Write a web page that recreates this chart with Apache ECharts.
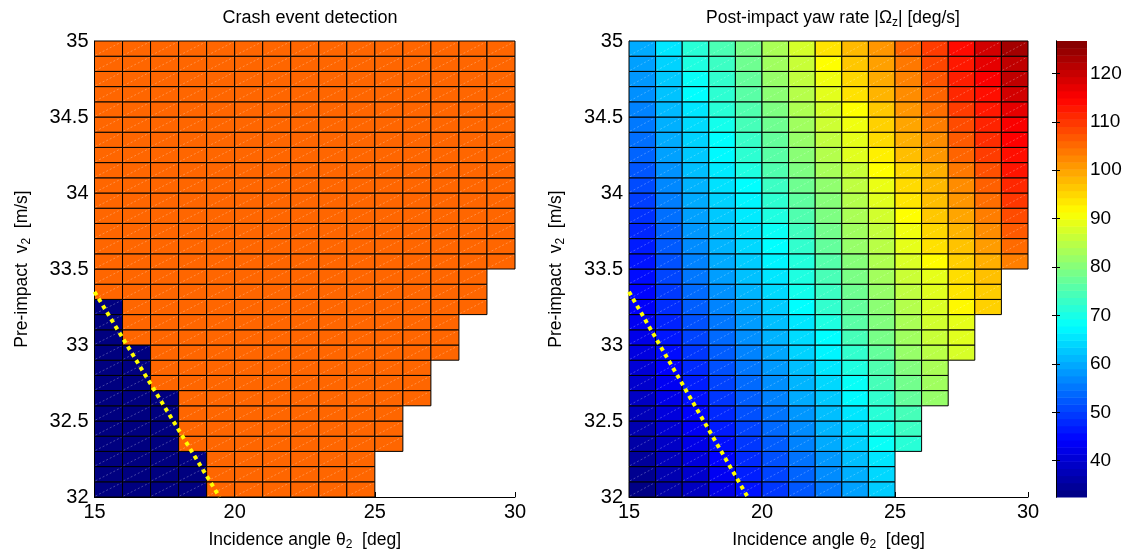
<!DOCTYPE html>
<html>
<head>
<meta charset="utf-8">
<script src="https://cdn.jsdelivr.net/npm/echarts@6/dist/echarts.min.js"></script>
<style>
  html, body { margin: 0; padding: 0; background: #fff; }
  #chart { width: 1142px; height: 556px; }
</style>
</head>
<body>
<div id="chart"></div>
<script>
// lower-left corner of each cell
const angles = [15, 16, 17, 18, 19, 20, 21, 22, 23, 24, 25, 26, 27, 28, 29];
const speeds = [32.0, 32.1, 32.2, 32.3, 32.4, 32.5, 32.6, 32.7, 32.8, 32.9,
                33.0, 33.1, 33.2, 33.3, 33.4, 33.5, 33.6, 33.7, 33.8, 33.9,
                34.0, 34.1, 34.2, 34.3, 34.4, 34.5, 34.6, 34.7, 34.8, 34.9];

// cells per row that exist (bottom row first)
const rowLength = [10, 10, 10, 11, 11, 11, 12, 12, 12, 13, 13, 13, 14, 14, 14,
                   15, 15, 15, 15, 15, 15, 15, 15, 15, 15, 15, 15, 15, 15, 15];
// crash not detected: number of cells from the left in each row
const missedCount = [4, 4, 4, 3, 3, 3, 3, 2, 2, 2, 1, 1, 1, 0, 0,
                     0, 0, 0, 0, 0, 0, 0, 0, 0, 0, 0, 0, 0, 0, 0];

// |Omega_z| [deg/s], one list per row (bottom row first)
const yawRate = [
  [33.0, 36.0, 38.5, 42.0, 45.8, 49.3, 52.3, 55.4, 59.1, 63.2],
  [34.0, 37.0, 39.7, 43.2, 47.0, 50.5, 53.5, 57.2, 60.5, 64.2],
  [35.0, 38.0, 40.9, 44.4, 48.1, 51.6, 54.9, 58.2, 61.9, 65.6],
  [36.0, 39.0, 42.1, 45.6, 49.3, 52.8, 56.3, 60.0, 63.7, 68.5, 71.5],
  [36.9, 40.1, 43.3, 46.8, 50.4, 53.9, 57.2, 61.0, 64.6, 70.0, 73.3],
  [37.8, 41.1, 44.5, 48.0, 51.6, 55.0, 58.2, 61.9, 65.6, 71.5, 74.3],
  [38.7, 42.1, 45.7, 49.2, 52.8, 56.2, 60.0, 62.8, 67.5, 72.4, 77.0, 81.7],
  [39.6, 43.2, 46.9, 50.4, 54.0, 57.4, 61.0, 64.2, 68.5, 74.3, 78.4, 82.6],
  [40.5, 44.2, 48.1, 51.6, 55.1, 58.5, 61.9, 65.6, 70.6, 75.2, 79.8, 83.5],
  [41.4, 45.3, 49.3, 52.8, 56.3, 59.7, 63.7, 66.9, 72.4, 77.0, 81.7, 84.9, 87.7],
  [42.2, 46.3, 50.5, 54.0, 57.4, 60.9, 64.6, 67.8, 74.3, 78.9, 82.6, 86.3, 88.6],
  [43.0, 47.4, 51.7, 55.2, 58.6, 62.0, 65.6, 70.6, 76.1, 79.8, 83.5, 87.2, 89.1],
  [43.8, 48.4, 52.9, 56.4, 59.8, 63.2, 67.8, 72.4, 77.0, 80.7, 84.4, 88.1, 91.9, 95.6],
  [44.6, 49.5, 54.1, 57.6, 60.9, 64.4, 69.6, 73.3, 78.0, 81.7, 85.4, 88.6, 93.7, 96.0],
  [45.3, 50.6, 55.2, 58.8, 62.1, 65.6, 70.6, 74.5, 79.1, 82.8, 86.5, 89.1, 94.4, 97.2],
  [46.0, 51.7, 56.3, 60.0, 63.2, 66.9, 71.0, 75.6, 80.2, 84.0, 88.0, 91.6, 95.8, 98.8, 103.2],
  [46.8, 52.6, 57.2, 60.9, 64.2, 67.8, 72.4, 77.0, 81.7, 84.9, 89.1, 94.2, 96.9, 100.6, 105.2],
  [47.8, 53.5, 58.2, 61.9, 65.1, 68.7, 73.8, 78.4, 82.6, 85.8, 90.0, 95.1, 98.3, 102.0, 106.6],
  [48.8, 54.5, 59.1, 62.8, 66.0, 70.6, 75.2, 79.4, 83.5, 87.2, 91.4, 96.5, 99.7, 103.4, 108.0],
  [50.0, 55.9, 60.0, 63.7, 67.0, 72.0, 76.6, 80.2, 84.4, 88.6, 93.7, 97.4, 101.1, 104.8, 109.9],
  [51.2, 56.8, 60.9, 65.1, 67.8, 73.3, 78.0, 81.2, 85.4, 89.5, 94.7, 98.0, 102.0, 106.1, 111.3],
  [52.2, 57.7, 61.9, 66.0, 70.6, 75.2, 79.4, 83.2, 86.3, 91.4, 95.1, 98.8, 103.9, 107.6, 113.1],
  [53.5, 59.1, 62.8, 67.4, 72.0, 76.1, 80.5, 84.4, 88.6, 92.8, 97.4, 101.1, 105.7, 109.4, 113.6],
  [54.5, 60.0, 63.7, 67.8, 72.9, 77.0, 81.7, 85.6, 89.1, 94.7, 98.8, 102.0, 106.6, 110.8, 114.9],
  [55.4, 60.5, 64.6, 69.6, 74.3, 78.0, 82.6, 86.7, 90.0, 95.6, 99.7, 103.4, 108.0, 111.7, 115.4],
  [56.3, 61.4, 65.6, 71.5, 75.2, 79.4, 83.8, 87.5, 91.4, 96.5, 101.1, 104.8, 109.4, 112.7, 117.2],
  [57.5, 62.3, 67.8, 72.0, 76.1, 80.7, 84.6, 88.8, 94.1, 98.3, 102.0, 105.7, 111.3, 113.6, 119.1],
  [58.2, 62.8, 68.5, 72.4, 77.0, 81.7, 85.6, 90.0, 95.1, 99.3, 103.0, 107.1, 112.2, 115.4, 120.9],
  [59.0, 63.7, 70.6, 73.3, 78.0, 82.6, 86.3, 91.4, 96.6, 100.2, 103.9, 108.5, 112.7, 117.2, 120.9],
  [60.0, 65.6, 71.5, 74.7, 78.9, 83.5, 87.5, 93.9, 97.8, 101.1, 105.7, 109.4, 114.0, 119.1, 123.5]
];

// yellow dotted boundary line
const boundary = [[15, 33.35], [19.46, 32.0]];
const colorbarTicks = [40, 50, 60, 70, 80, 90, 100, 110, 120];
const cbMin = 32.5, cbMax = 126.7;

const DX = 1, DV = 0.1;
const FONT = 'Liberation Sans';

const detectData = [];
const yawData = [];
speeds.forEach((v, r) => {
    for (let c = 0; c < rowLength[r]; c++) {
        detectData.push([angles[c], v, c < missedCount[r] ? 0 : 1]);
        yawData.push([angles[c], v, yawRate[r][c]]);
    }
});

// 64 colour steps like the matlab colorbar
const bands = [];
for (let i = 0; i < 64; i++) {
    const lo = cbMin + (cbMax - cbMin) * i / 64;
    const hi = cbMin + (cbMax - cbMin) * (i + 1) / 64;
    bands.push([0, lo, (lo + hi) / 2, hi]);
}

const cellItem = colorOf => (params, api) => {
    const x0 = api.value(0), y0 = api.value(1);
    const p0 = api.coord([x0, y0]);
    const p1 = api.coord([x0 + DX, y0 + DV]);
    return {
        type: 'group',
        children: [
            {
                type: 'rect',
                shape: { x: p0[0], y: p1[1], width: p1[0] - p0[0], height: p0[1] - p1[1] },
                style: { fill: colorOf(api), stroke: '#000', lineWidth: 1 }
            },
            {
                type: 'line',
                shape: { x1: p0[0] + 1, y1: p0[1] - 1, x2: p1[0] - 1, y2: p1[1] + 1 },
                style: { stroke: 'rgba(255,255,255,0.45)', lineWidth: 0.6, lineDash: [2, 2] }
            }
        ]
    };
};

const rich = {
    base: { fontFamily: FONT, fontSize: 17.5, fontWeight: 'normal', color: '#000' },
    sub: { fontFamily: FONT, fontSize: 12, fontWeight: 'normal', color: '#000', padding: [9, 0, 0, 0] }
};

const xAxisBase = (grid) => ({
    gridIndex: grid, type: 'value', min: 15, max: 30, interval: 5,
    name: '{base|Incidence angle θ}{sub|2}{base|  [deg]}',
    nameLocation: 'middle', nameGap: 33,
    nameTextStyle: { rich },
    axisLine: { show: true, lineStyle: { color: '#000', width: 1 } },
    axisTick: { show: true, inside: true, length: 5, lineStyle: { color: '#000' } },
    axisLabel: { fontFamily: FONT, fontSize: 20, color: '#000', margin: 5 },
    splitLine: { show: false }
});
const yAxisBase = (grid) => ({
    gridIndex: grid, type: 'value', min: 32, max: 35, interval: 0.5,
    name: '{base|Pre-impact  v}{sub|2}{base|  [m/s]}',
    nameLocation: 'middle', nameGap: 62,
    nameTextStyle: { rich },
    axisLine: { show: true, lineStyle: { color: '#000', width: 1 } },
    axisTick: { show: true, inside: true, length: 5, lineStyle: { color: '#000' } },
    axisLabel: { fontFamily: FONT, fontSize: 20, color: '#000', margin: 6 },
    splitLine: { show: false }
});

const chart = echarts.init(document.getElementById('chart'));
chart.setOption({
    backgroundColor: '#fff',
    animation: false,
    title: [
        {
            text: 'Crash event detection',
            left: 305, top: 4, textAlign: 'center',
            textStyle: { fontFamily: FONT, fontSize: 18, fontWeight: 'normal', color: '#000' }
        },
        {
            text: '{base|Post-impact yaw rate |Ω}{sub|z}{base|| [deg/s]}',
            left: 828, top: 3, textAlign: 'center',
            textStyle: { fontWeight: 'normal', rich }
        }
    ],
    grid: [
        { left: 94.5, top: 41, width: 420.5, height: 456 },
        { left: 629, top: 41, width: 399, height: 456 },
        { left: 1056, top: 41, width: 31, height: 456 }
    ],
    xAxis: [
        xAxisBase(0),
        xAxisBase(1),
        { gridIndex: 2, type: 'value', min: 0, max: 1, show: false }
    ],
    yAxis: [
        yAxisBase(0),
        yAxisBase(1),
        {
            gridIndex: 2, type: 'value', min: cbMin, max: cbMax, position: 'right', z: 10,
            axisLine: { show: true, lineStyle: { color: '#000' } },
            axisTick: { show: true, inside: true, length: 4, customValues: colorbarTicks, lineStyle: { color: '#000' } },
            axisLabel: { fontFamily: FONT, fontSize: 19, color: '#000', margin: 3, customValues: colorbarTicks },
            splitLine: { show: false }
        },
        {
            gridIndex: 2, type: 'value', min: cbMin, max: cbMax, position: 'left', z: 10,
            axisLine: { show: true, lineStyle: { color: '#000' } },
            axisTick: { show: true, inside: true, length: 4, customValues: colorbarTicks, lineStyle: { color: '#000' } },
            axisLabel: { show: false },
            splitLine: { show: false }
        }
    ],
    visualMap: {
        type: 'continuous', show: false, min: cbMin, max: cbMax, dimension: 2,
        seriesIndex: [2, 4],
        inRange: {
            color: ['#000080', '#0000FF', '#0080FF', '#00FFFF', '#80FF80',
                    '#FFFF00', '#FF8000', '#FF0000', '#800000']
        }
    },
    series: [
        {
            type: 'custom', xAxisIndex: 0, yAxisIndex: 0,
            renderItem: cellItem(api => api.value(2) ? '#FF6600' : '#000080'),
            data: detectData
        },
        {
            type: 'line', xAxisIndex: 0, yAxisIndex: 0, data: boundary,
            symbol: 'none', z: 5,
            lineStyle: { color: '#FFFF00', width: 4, type: [4, 4] }
        },
        {
            type: 'custom', xAxisIndex: 1, yAxisIndex: 1,
            renderItem: cellItem(api => api.visual('color')),
            data: yawData
        },
        {
            type: 'line', xAxisIndex: 1, yAxisIndex: 1, data: boundary,
            symbol: 'none', z: 5,
            lineStyle: { color: '#FFFF00', width: 4, type: [4, 4] }
        },
        {
            type: 'custom', xAxisIndex: 2, yAxisIndex: 2,
            renderItem: (params, api) => {
                const p0 = api.coord([0, api.value(1)]);
                const p1 = api.coord([1, api.value(3)]);
                return {
                    type: 'rect',
                    shape: { x: p0[0], y: p1[1], width: p1[0] - p0[0], height: p0[1] - p1[1] + 0.5 },
                    style: { fill: api.visual('color') }
                };
            },
            data: bands
        }
    ]
});
</script>
</body>
</html>
